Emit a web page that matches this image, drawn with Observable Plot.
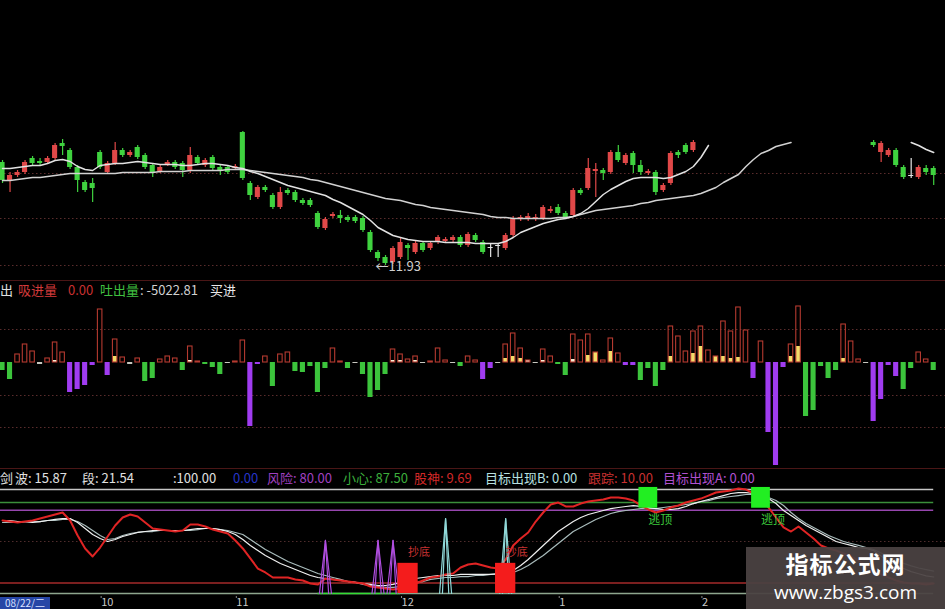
<!DOCTYPE html>
<html><head><meta charset="utf-8">
<script src="https://cdn.jsdelivr.net/npm/d3@7"></script>
<script src="https://cdn.jsdelivr.net/npm/@observablehq/plot@0.6"></script>
<style>
html,body{margin:0;padding:0;background:#000;}
#wrap{position:relative;width:945px;height:609px;background:#000;overflow:hidden;font-family:"Noto Sans CJK SC","Noto Sans",sans-serif;}
.pane{position:absolute;left:0;}
.hdr{position:absolute;font-size:13px;line-height:16px;white-space:nowrap;}
.sep{position:absolute;left:0;width:945px;height:1px;background:#4a1616;}
#datebox{position:absolute;left:0;top:597px;width:50px;height:12px;background:#2646a6;color:#d8e0ff;font-size:10px;line-height:12px;white-space:nowrap;text-align:center;}
#wm{position:absolute;left:746px;top:547px;width:199px;height:62px;background:rgba(74,66,66,0.94);color:#fff;text-align:center;}
#wm .a{position:absolute;left:0;width:199px;top:4px;font-size:23px;font-weight:bold;line-height:25px;letter-spacing:1px;}
#wm .b{position:absolute;left:0;width:199px;top:34px;font-size:19px;line-height:23px;font-family:"Open Sans","Noto Sans",sans-serif;}
</style></head>
<body><div id="wrap"></div>
<script>
// ---------- price panel data (bar index 0..124) ----------
const open = [12.96,12.78,12.83,12.86,13.00,12.97,12.96,13.00,13.15,13.08, 12.91,12.76,12.75,13.06,12.86,12.95,13.08,13.03,13.11,13.03,
  12.93,12.87,12.94,12.96,12.95,12.88,13.01,12.93,13.01,12.91, 12.91,12.90,13.26,12.75,12.61,12.71,12.63,12.51,12.68,12.66,
  12.58,12.58,12.45,12.30,12.42,12.43,12.41,12.41,12.40,12.26, 12.06,12.01,11.96,12.01,12.13,12.06,12.15,12.10,12.16,12.17,
  12.18,12.21,12.13,12.23,12.16,12.10,12.12,12.10,12.23,12.39, 12.40,12.39,12.40,12.47,12.51,12.45,12.43,12.68,12.70,12.87,
  12.88,12.86,13.06,12.95,13.05,12.93,12.85,12.86,12.68,12.75, 13.06,13.13,13.08,
  null,null,null,null,null,null,null,null,null,null,null,null,null,null,null,null,null,null,null,null,null,null,null,
  13.16,13.06,13.03,13.08,12.91,12.82,12.81,12.90,12.90];
const high = [12.98,12.86,12.88,12.98,13.02,13.00,13.02,13.15,13.19,13.10, 12.93,12.78,12.80,13.08,12.97,13.16,13.10,13.08,13.13,13.05,
  12.95,12.93,12.98,12.98,12.97,13.11,13.03,13.00,13.03,12.93, 12.93,12.94,13.27,12.77,12.73,12.73,12.65,12.71,12.70,12.68,
  12.60,12.60,12.47,12.41,12.46,12.48,12.43,12.43,12.42,12.28, 12.08,12.03,12.12,12.21,12.15,12.17,12.17,12.17,12.23,12.21,
  12.23,12.23,12.26,12.25,12.18,12.15,12.15,12.25,12.42,12.43, 12.45,12.44,12.53,12.52,12.54,12.47,12.70,12.70,13.00,12.95,
  12.90,13.08,13.13,13.05,13.07,12.98,12.89,12.88,12.75,13.07, 13.08,13.15,13.18,
  null,null,null,null,null,null,null,null,null,null,null,null,null,null,null,null,null,null,null,null,null,null,null,
  13.18,13.17,13.10,13.10,12.93,13.00,12.93,12.93,12.92];
const low = [12.75,12.66,12.81,12.84,12.92,12.93,12.94,12.98,13.03,12.89, 12.66,12.66,12.56,12.89,12.84,12.93,13.01,13.01,12.99,12.89,
  12.81,12.85,12.92,12.89,12.81,12.85,12.93,12.91,12.88,12.83, 12.84,12.88,12.78,12.58,12.59,12.66,12.49,12.49,12.63,12.56,
  12.53,12.51,12.29,12.28,12.40,12.35,12.36,12.35,12.26,12.06, 11.97,11.93,11.94,11.99,11.98,12.04,12.06,12.08,12.14,12.15,
  12.16,12.11,12.11,12.16,12.04,12.01,12.01,12.08,12.21,12.37, 12.37,12.37,12.38,12.45,12.43,12.39,12.41,12.63,12.68,12.61,
  12.78,12.84,12.96,12.93,12.85,12.83,12.83,12.63,12.66,12.73, 13.00,13.04,13.06,
  null,null,null,null,null,null,null,null,null,null,null,null,null,null,null,null,null,null,null,null,null,null,null,
  13.11,12.96,13.01,12.91,12.79,12.80,12.79,12.83,12.73];
const close = [12.78,12.83,12.86,12.96,12.95,12.95,13.00,13.13,13.12,12.91, 12.78,12.68,12.70,12.91,12.95,13.08,13.03,13.06,13.01,12.91,
  12.86,12.91,12.96,12.91,12.88,13.03,12.95,12.98,12.90,12.88, 12.86,12.92,12.80,12.63,12.71,12.68,12.51,12.66,12.65,12.58,
  12.55,12.53,12.31,12.39,12.44,12.40,12.38,12.37,12.28,12.08, 12.00,11.95,12.10,12.16,12.10,12.15,12.08,12.15,12.21,12.19,
  12.21,12.13,12.24,12.18,12.06,12.11,12.13,12.23,12.40,12.41, 12.42,12.41,12.51,12.49,12.45,12.41,12.68,12.65,12.90,12.89,
  12.85,13.06,12.98,13.03,12.93,12.86,12.87,12.66,12.73,13.05, 13.03,13.06,13.16,
  null,null,null,null,null,null,null,null,null,null,null,null,null,null,null,null,null,null,null,null,null,null,null,
  13.13,13.15,13.08,12.93,12.81,12.83,12.91,12.86,12.83];
const ma5 = [12.90,12.90,12.91,12.92,12.93,12.93,12.95,12.98,12.99,12.97, 12.92,12.89,12.88,12.93,12.94,12.95,12.95,12.96,12.97,12.96,
  12.95,12.94,12.94,12.94,12.93,12.93,12.94,12.95,12.95,12.94, 12.93,12.91,12.90,12.87,12.85,12.82,12.79,12.76,12.73,12.71,
  12.69,12.67,12.65,12.63,12.59,12.56,12.52,12.48,12.44,12.38, 12.31,12.27,12.23,12.21,12.19,12.18,12.17,12.17,12.17,12.16,
  12.16,12.16,12.16,12.15,12.15,12.15,12.15,12.17,12.21,12.26, 12.29,12.32,12.35,12.37,12.39,12.40,12.42,12.45,12.50,12.57,
  12.64,12.69,12.73,12.77,12.80,12.81,12.81,12.81,12.80,12.81, 12.84,12.87,12.92,13.01,13.13,
  null,null,null,null,null,null,null,null,null,null,null,null,null,null,null,null,null,null,null,null,null,null,null,null,null,null,
  13.16,13.13,13.09,13.06];
const ma10 = [12.78,12.78,12.79,12.80,12.81,12.81,12.82,12.83,12.84,12.85, 12.85,12.85,12.85,12.85,12.85,12.85,12.86,12.86,12.86,12.86,
  12.86,12.87,12.87,12.87,12.87,12.88,12.88,12.88,12.88,12.88, 12.89,12.89,12.89,12.88,12.87,12.86,12.85,12.84,12.83,12.82,
  12.81,12.79,12.78,12.76,12.74,12.72,12.70,12.68,12.66,12.64, 12.62,12.60,12.59,12.58,12.56,12.54,12.53,12.51,12.50,12.49,
  12.48,12.47,12.46,12.45,12.44,12.42,12.41,12.41,12.40,12.40, 12.40,12.40,12.40,12.40,12.41,12.41,12.42,12.44,12.46,12.48,
  12.49,12.50,12.51,12.52,12.53,12.55,12.56,12.58,12.59,12.60, 12.61,12.62,12.63,12.65,12.68,12.71,12.76,12.80,12.84,12.92,
  12.99,13.05,13.08,13.12,13.14,13.16,
  null,null,null,null,null,null,null,null,null,null,null,null,null,null,null,null,null,null,null];
const priceGrid = [12.85, 12.40, 11.93];

// ---------- flow (volume) panel data ----------
const flow = [-8,-17,8,18,11,-2,4,20,10,-30, -27,-23,-3,53,-13,23,5,-2,4,-19, -16,3,6,4,-8,16,1,-2,-5,-12,
  -1,1,22,-64,-2,6,-24,8,10,-9, -10,-4,-30,-6,14,1,-6,-1,-12,-35, -28,-12,13,8,3,6,-1,1,14,2,
  -1,-4,6,2,-17,-6,-1,18,29,14, 2,-1,13,6,-2,-13,28,22,28,10, 2,24,9,-3,-3,-18,-6,-24,-8,36,
  26,11,31,36,12,6,41,31,55,32, -16,21,-70,-103,-5,18,56,-54,-48,-4, -16,-8,38,21,3,-1,-59,-37,-3,-14,
  -27,-6,10,3,-8];
const flowKind = "ggrrrwrrrp" + "ppprprrwrg" + "grrrgrrggg" + "wrrpprgrrg" + "ggggrrgwgg" +
  "ggrrrrwrrr" + "wgrrppwrrr" + "rwrrggrrrr" + "rrrppggggr" + "rrrrrrrrrr" +
  "prppprrggg" + "ggrrrwpppp" + "ggrrg";
const fillIdx = [7,15,25,52,53,55,67,68,69,70,72,76,78,79,81,89,92,93,95,96,97,98,105,106,112];
const fillVal = [2,6,2,2,2,2,4,6,4,2,2,3,7,10,11,6,9,16,6,6,4,5,6,16,4];
const flowGrid = [33, -33, -65];

// ---------- oscillator panel data ----------
const jLine = [70.2,69.2,68.3,69.2,70.2,72.1,74.0,76.0,77.9,70.2, 55.8,43.3,35.6,44.2,54.8,65.4,73.1,76.0,74.0,68.3,
  62.5,61.5,60.6,59.6,60.6,66.3,66.3,64.4,61.5,59.6, 57.7,51.0,43.3,33.7,24.0,20.2,15.4,15.4,15.4,13.5,
  12.5,9.6,8.7,14.4,13.5,12.5,11.5,10.6,9.6,6.7, 5.8,4.8,3.8,4.8,6.7,9.6,12.5,15.4,16.3,18.3,
  19.2,25.0,27.9,28.8,26.9,25.0,24.0,32.7,46.2,52.9, 58.7,69.2,77.9,85.6,87.5,83.7,83.7,86.5,88.5,89.4,
  90.4,92.3,92.3,91.3,89.4,84.6,80.8,77.9,79.8,82.7, 84.6,87.5,89.4,91.3,94.2,97.1,98.1,99.0,101.0,100.0,
  96.2,91.3,82.7,73.1,63.5,59.6,64.4,58.7,52.9,46.2, 43.3,41.3,38.5,35.6,31.7,26.9,22.1,18.3,15.4,12.5,
  10.6,9.6,9.6,8.7,9.69];
const kLine = [70.2,70.2,69.2,69.2,68.3,69.2,70.2,71.2,72.1,72.1, 68.3,62.5,56.7,52.9,50.0,51.9,54.8,56.7,58.7,59.6,
  60.6,60.6,60.6,60.6,60.6,61.5,62.5,62.5,62.5,61.5, 59.6,56.7,51.9,46.2,41.3,36.5,32.7,28.8,26.0,23.1,
  20.2,17.3,15.4,14.4,13.5,12.5,11.5,10.6,9.6,8.7, 7.7,7.7,8.7,10.6,12.5,14.4,15.4,16.3,17.3,17.3,
  17.3,18.3,18.3,18.3,18.3,18.3,19.2,20.2,22.1,26.9, 32.7,39.4,46.2,52.9,59.6,64.4,69.2,73.1,76.0,77.9,
  79.8,81.7,82.7,83.7,84.6,83.7,82.7,81.7,80.8,80.8, 81.7,83.7,86.5,88.5,90.4,92.3,94.2,96.2,97.1,97.1,
  96.2,94.2,91.3,86.5,79.8,75.0,70.2,65.4,61.5,57.7, 53.8,50.0,48.1,46.2,44.2,43.3,41.3,36.0,31.0,27.0,
  24.0,21.0,19.0,17.0,15.87];
const dLine = [68.3,68.3,68.3,69.2,69.2,69.2,70.2,70.2,71.2,71.2, 69.2,65.4,60.6,55.8,51.9,52.9,55.8,57.7,58.7,59.6,
  59.6,60.6,60.6,60.6,60.6,60.6,61.5,62.5,62.5,61.5, 60.6,58.7,56.7,51.9,47.1,42.3,38.5,34.6,30.8,27.9,
  25.0,22.1,19.2,17.3,15.4,13.5,11.5,10.6,8.7,7.7, 6.7,5.8,5.8,6.7,8.7,10.6,11.5,13.5,14.4,15.4,
  15.4,16.3,16.3,17.3,17.3,18.3,18.3,19.2,20.2,23.1, 26.9,31.7,36.5,42.3,48.1,53.8,59.6,63.5,67.3,71.2,
  74.0,76.9,78.8,79.8,80.8,81.7,81.7,81.7,82.7,83.7, 84.6,85.6,86.5,88.5,89.4,91.3,92.3,93.3,94.2,95.2,
  95.2,94.2,92.3,89.4,84.6,77.9,72.1,67.3,63.5,59.6, 55.8,52.9,50.0,48.1,46.2,44.2,42.3,39.0,35.5,32.0,
  29.0,26.5,24.5,23.0,21.54];
const levelVals = [100, 87.5, 80, 10, 0];
const levelColors = ["#c6c6c6", "#3b8f3b", "#9646ae", "#a52a2a", "#8ea68e"];
const spikeIdx = [43, 50, 52, 59, 67];
const spikeVal = [51, 51, 51, 72, 72];
const spikeColor = ["#b04ee0", "#b04ee0", "#b04ee0", "#90d8d8", "#90d8d8"];
const bottomIdx = [54, 67];
const bottomVal = [29, 29];
const topIdx = [86, 101];
const topLo = [82, 82];
const topHi = [102, 102];
const greenZero = [42, 53];
const monthIdx = [13, 31, 53, 74, 93];
const monthLabels = ["10", "11", "12", "1", "2"];

// ---------- build ----------
const N = flow.length;
const idx = d3.range(N);
const xDomain = [-0.27, 125.57];
const W = 945;
const wrap = document.getElementById("wrap");
function pane(el, top) { const d = document.createElement("div"); d.className = "pane"; d.style.top = top + "px"; d.appendChild(el); wrap.appendChild(d); }
const baseStyle = {background: "transparent", color: "#c8c8c8", fontFamily: "'Noto Sans CJK SC', 'Noto Sans', sans-serif", overflow: "visible"};

// Panel 1: candles + moving averages
const candles = idx.filter(i => open[i] != null).map(i => ({i, open: open[i], high: high[i], low: low[i], close: close[i]}));
const candleColor = d => Math.abs(d.close - d.open) < 0.015 ? "#e4e4e4" : (d.close > d.open ? "#e04848" : "#3fd23f");
const maRows = idx.map(i => ({i, ma5: ma5[i], ma10: ma10[i]}));
const lowest = d3.least(candles, d => d.low);
const p1 = Plot.plot({
  width: W, height: 280, margin: 0, marginTop: 131,
  x: {domain: xDomain, axis: null},
  y: {domain: [11.78, 13.27], axis: null},
  color: {type: "identity"},
  style: baseStyle,
  marks: [
    Plot.ruleY(priceGrid, {stroke: "#5a2c2c", strokeDasharray: "1.5,2.5"}),
    Plot.ruleX(candles, {x: "i", y1: "low", y2: "high", stroke: candleColor, strokeWidth: 1.2, clip: true}),
    Plot.rect(candles, {x1: d => d.i - 0.34, x2: d => d.i + 0.34, y1: "open", y2: "close", fill: candleColor, clip: true}),
    Plot.line(maRows, {x: "i", y: "ma10", stroke: "#d2d2d2", strokeWidth: 1.5, clip: true}),
    Plot.line(maRows, {x: "i", y: "ma5", stroke: "#e2e2e2", strokeWidth: 1.5, clip: true}),
    Plot.text([lowest], {x: "i", y: "low", text: d => "\u2190" + d.low.toFixed(2), textAnchor: "start", dx: -10, dy: 1, fill: "#cfcfcf", fontSize: 13})
  ]
});
pane(p1, 0);

// Panel 2: flow bars
const kindColor = {g: "#3cc43c", p: "#a03cf0", w: "#c8c8c0", r: "#b53a30"};
const flowRows = idx.map(i => ({i, v: flow[i], k: flowKind[i]}));
const fillRows = fillIdx.map((i, j) => ({i, v: fillVal[j]}));
const p2 = Plot.plot({
  width: W, height: 190, margin: 0,
  x: {domain: xDomain, axis: null},
  y: {domain: [-108, 82], axis: null},
  color: {type: "identity"},
  style: baseStyle,
  marks: [
    Plot.ruleY(flowGrid, {stroke: "#5a2c2c", strokeDasharray: "1.5,2.5"}),
    Plot.rect(flowRows.filter(d => d.k !== "r"), {x1: d => d.i - 0.34, x2: d => d.i + 0.34, y1: 0, y2: "v", fill: d => kindColor[d.k]}),
    Plot.rect(fillRows, {x1: d => d.i - 0.3, x2: d => d.i + 0.3, y1: 0, y2: "v", fill: d => d.v <= 3 ? "#f4f0d6" : "#f2dc6a"}),
    Plot.rect(flowRows.filter(d => d.k === "r"), {x1: d => d.i - 0.3, x2: d => d.i + 0.3, y1: 0, y2: "v", fill: "none", stroke: kindColor.r, strokeWidth: 1.1})
  ]
});
pane(p2, 280);

// Panel 3: oscillator
const oscRows = idx.map(i => ({i, j: jLine[i], k: kLine[i], d: dLine[i]}));
const levels = levelVals.map((v, j) => ({v, c: levelColors[j]}));
const spikeRows = [];
spikeIdx.forEach((s, j) => {
  [0.8, 0.42].forEach(w => {
    spikeRows.push({x: s - w, v: 0, z: j + "-" + w, c: spikeColor[j]});
    spikeRows.push({x: s, v: spikeVal[j], z: j + "-" + w, c: spikeColor[j]});
    spikeRows.push({x: s + w, v: 0, z: j + "-" + w, c: spikeColor[j]});
  });
});
const bottoms = bottomIdx.map((i, j) => ({i, v: bottomVal[j]}));
const tops = topIdx.map((i, j) => ({i, lo: topLo[j], hi: topHi[j]}));
const monthMap = new Map(monthIdx.map((m, j) => [m, monthLabels[j]]));
const p3 = Plot.plot({
  width: W, height: 139, margin: 0, marginBottom: 13,
  x: {domain: xDomain, axis: null},
  y: {domain: [-2.9, 118.3], axis: null},
  color: {type: "identity"},
  style: baseStyle,
  marks: [
    Plot.ruleY([50], {stroke: "#4e2c2c", strokeDasharray: "1.5,2.5"}),
    Plot.ruleY(levels, {y: "v", x1: xDomain[0], x2: 124, stroke: "c", strokeWidth: 1.5}),
    Plot.ruleY([0], {x1: greenZero[0], x2: greenZero[1], stroke: "#33dd33", strokeWidth: 1.6}),
    Plot.line(oscRows, {x: "i", y: "d", stroke: "#a9bcbc", strokeWidth: 1.2}),
    Plot.line(oscRows, {x: "i", y: "k", stroke: "#f0f0f0", strokeWidth: 1.2}),
    Plot.line(oscRows, {x: "i", y: "j", stroke: "#e02424", strokeWidth: 2}),
    Plot.line(spikeRows, {x: "x", y: "v", z: "z", stroke: "c", strokeWidth: 1.2}),
    Plot.rect(bottoms, {x1: d => d.i - 1.35, x2: d => d.i + 1.35, y1: 0, y2: "v", fill: "#f41c1c"}),
    Plot.text(bottoms, {x: "i", y: "v", text: () => "抄底", dx: 11, dy: -11, fill: "#c83232", fontSize: 11}),
    Plot.rect(tops, {x1: d => d.i - 1.25, x2: d => d.i + 1.25, y1: "lo", y2: "hi", fill: "#22ee22"}),
    Plot.text(tops, {x: "i", y: "lo", text: () => "逃顶", dx: 12, dy: 12, fill: "#3cc83c", fontSize: 12}),
    Plot.axisX(monthIdx, {anchor: "bottom", tickSize: 2, tickPadding: 0, tickFormat: d => monthMap.get(d), textAnchor: "start", dx: 1, fontSize: 11, stroke: "#8a8a8a", fill: "#c8c8c8"})
  ]
});
pane(p3, 470);

// separators, headers, date box, watermark
function sep(top) { const d = document.createElement("div"); d.className = "sep"; d.style.top = top + "px"; wrap.appendChild(d); }
sep(280); sep(468);
function hdr(top, items) {
  items.forEach(([left, text, color]) => {
    const s = document.createElement("div"); s.className = "hdr";
    s.style.top = top + "px"; s.style.left = left + "px"; s.style.color = color; s.textContent = text;
    wrap.appendChild(s);
  });
}
hdr(282, [[0, "出", "#e0e0e0"], [18, "吸进量", "#d23a3a"], [68, "0.00", "#c83030"], [100, "吐出量", "#40c040"], [140, ": -5022.81", "#d0d0d0"], [210, "买进", "#e8e8e8"]]);
hdr(470, [[0, "剑", "#e0e0e0"], [15, "波: 15.87", "#e0e0e0"], [82, "段: 21.54", "#e0e0e0"], [173, ":100.00", "#e0e0e0"],
  [233, "0.00", "#2535c8"], [267, "风险: 80.00", "#a040c0"], [343, "小心: 87.50", "#3cae3c"], [414, "股神: 9.69", "#d02828"],
  [485, "目标出现B: 0.00", "#b8e0e0"], [588, "跟踪: 10.00", "#c83030"], [663, "目标出现A: 0.00", "#b050d0"]]);
const db = document.createElement("div"); db.id = "datebox"; db.textContent = "08/22/二"; wrap.appendChild(db);
const wm = document.createElement("div"); wm.id = "wm";
wm.innerHTML = '<div class="a">指标公式网</div><div class="b">www.zbgs3.com</div>';
wrap.appendChild(wm);
</script>
</body></html>
